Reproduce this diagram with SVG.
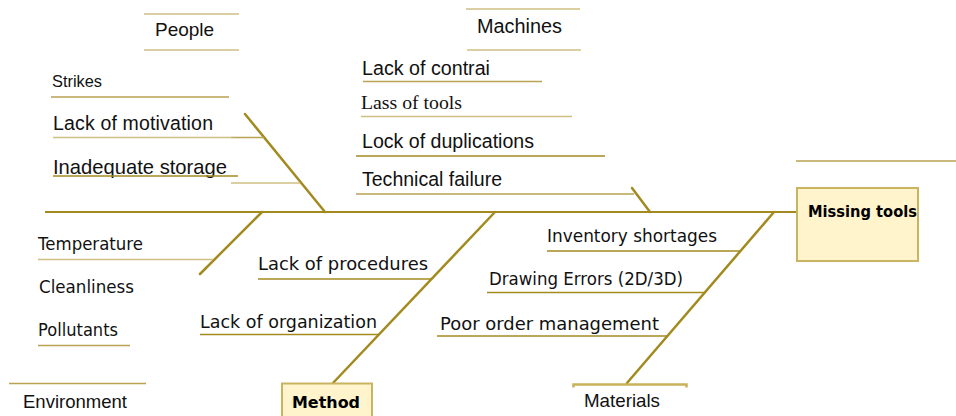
<svg xmlns="http://www.w3.org/2000/svg" width="956" height="416" viewBox="0 0 956 416">
<style>
.sans{font-family:"Liberation Sans",Arial,sans-serif;fill:#111}
.geo{font-family:"DejaVu Sans","Liberation Sans",sans-serif;fill:#111}
.serif{font-family:"Liberation Serif","Times New Roman",serif;fill:#111}
.bold{font-family:"DejaVu Sans","Liberation Sans",sans-serif;font-weight:bold;fill:#000}
.bone{stroke:#A38A1F;stroke-width:2.5;fill:none;stroke-linecap:round}
.spine{stroke:#A38A1F;stroke-width:2.2;fill:none}
.ul-d{stroke:#A38A1F;stroke-width:1.6}
.ul-m{stroke:#B9A250;stroke-width:1.5}
.ul-l{stroke:#CFBF82;stroke-width:1.5}
.box{fill:#FFF4CC;stroke:#C9B462;stroke-width:2}
</style>
<rect width="956" height="416" fill="#fff"/>

<g id="connectors">
<line class="spine" x1="45" y1="212" x2="797" y2="212"/>
<line class="bone" x1="245" y1="114" x2="325" y2="212"/>
<line class="bone" x1="632" y1="188" x2="650" y2="212"/>
<line class="bone" x1="262" y1="212" x2="200" y2="274"/>
<line class="bone" x1="495" y1="212" x2="333" y2="383"/>
<line class="bone" x1="774" y1="212" x2="627" y2="383"/>
<line class="ul-m" x1="231" y1="137.5" x2="264" y2="137.5"/>
<line class="ul-l" x1="231" y1="183" x2="300" y2="183"/>
<line class="ul-m" x1="356" y1="194" x2="634" y2="194"/>
</g>

<g id="effect">
<line class="ul-m" x1="796" y1="161" x2="956" y2="161"/>
<rect class="box" x="797" y="188" width="121" height="73"/>
<text class="bold" x="808" y="217" font-size="15.5" textLength="109" lengthAdjust="spacingAndGlyphs">Missing tools</text>
</g>

<g id="people">
<line class="ul-l" x1="144" y1="14" x2="239" y2="14"/>
<line class="ul-l" x1="144" y1="50" x2="239" y2="50"/>
<text class="sans" x="155" y="36" font-size="19">People</text>
</g>
<g id="strikes">
<text class="sans" x="52" y="87" font-size="16.5" textLength="50" lengthAdjust="spacingAndGlyphs">Strikes</text>
<line class="ul-m" x1="51" y1="97" x2="229" y2="97"/>
</g>
<g id="lack-of-motivation">
<text class="sans" x="53" y="130" font-size="19.5" textLength="160">Lack of motivation</text>
<line class="ul-l" x1="53" y1="137.5" x2="233" y2="137.5"/>
</g>
<g id="inadequate-storage">
<text class="sans" x="53" y="173.5" font-size="19.8" textLength="174" lengthAdjust="spacingAndGlyphs">Inadequate storage</text>
<line class="ul-d" x1="53" y1="176" x2="238" y2="176"/>
</g>

<g id="machines">
<line class="ul-l" x1="466" y1="9" x2="580" y2="9"/>
<line class="ul-l" x1="467" y1="50" x2="581" y2="50"/>
<text class="sans" x="477" y="32.5" font-size="19.5" textLength="85" lengthAdjust="spacingAndGlyphs">Machines</text>
</g>
<g id="lack-of-contrai">
<text class="sans" x="362" y="75" font-size="19.5" textLength="128" lengthAdjust="spacingAndGlyphs">Lack of contrai</text>
<line class="ul-m" x1="363" y1="81.5" x2="542" y2="81.5"/>
</g>
<g id="lass-of-tools">
<text class="serif" x="361" y="109" font-size="19.5" textLength="101" lengthAdjust="spacingAndGlyphs">Lass of tools</text>
<line class="ul-l" x1="361" y1="116.5" x2="572" y2="116.5"/>
</g>
<g id="lock-of-duplications">
<text class="sans" x="362" y="148" font-size="19.5" textLength="172" lengthAdjust="spacingAndGlyphs">Lock of duplications</text>
<line class="ul-d" x1="356" y1="156" x2="605" y2="156"/>
</g>
<g id="technical-failure">
<text class="sans" x="362" y="186" font-size="19.3" textLength="140" lengthAdjust="spacingAndGlyphs">Technical failure</text>
</g>

<g id="environment">
<line class="ul-m" x1="9" y1="383.5" x2="146" y2="383.5"/>
<text class="sans" x="23" y="407.5" font-size="18.5" textLength="104" lengthAdjust="spacingAndGlyphs">Environment</text>
</g>
<g id="temperature">
<text class="geo" x="38" y="250" font-size="17.5" textLength="105" lengthAdjust="spacingAndGlyphs">Temperature</text>
<line class="ul-l" x1="38" y1="259.5" x2="213" y2="259.5"/>
</g>
<g id="cleanliness">
<text class="geo" x="39" y="293" font-size="17.5" textLength="95" lengthAdjust="spacingAndGlyphs">Cleanliness</text>
</g>
<g id="pollutants">
<text class="geo" x="38" y="336" font-size="17.5" textLength="80" lengthAdjust="spacingAndGlyphs">Pollutants</text>
<line class="ul-m" x1="38" y1="345.5" x2="130" y2="345.5"/>
</g>

<g id="method">
<rect class="box" x="282" y="383.5" width="90" height="40"/>
<text class="bold" x="292" y="408" font-size="16.5" textLength="68" lengthAdjust="spacingAndGlyphs">Method</text>
</g>
<g id="lack-of-procedures">
<text class="geo" x="258" y="270" font-size="18" textLength="170" lengthAdjust="spacingAndGlyphs">Lack of procedures</text>
<line class="ul-d" x1="258" y1="279" x2="432" y2="279"/>
</g>
<g id="lack-of-organization">
<text class="geo" x="200" y="328" font-size="17.8" textLength="177" lengthAdjust="spacingAndGlyphs">Lack of organization</text>
<line class="ul-d" x1="200" y1="334.5" x2="379" y2="334.5"/>
</g>

<g id="materials">
<path d="M573.5 387.5 V384.5 H686.5 V387.5" fill="none" stroke="#C9B25A" stroke-width="2.5"/>
<text class="sans" x="584" y="407" font-size="18.5" textLength="76" lengthAdjust="spacingAndGlyphs">Materials</text>
</g>
<g id="inventory-shortages">
<text class="geo" x="547" y="242" font-size="17.8" textLength="170" lengthAdjust="spacingAndGlyphs">Inventory shortages</text>
<line class="ul-d" x1="547" y1="251" x2="741" y2="251"/>
</g>
<g id="drawing-errors">
<text class="geo" x="489" y="285" font-size="17.5" textLength="194" lengthAdjust="spacingAndGlyphs">Drawing Errors (2D/3D)</text>
<line class="ul-d" x1="487" y1="292.5" x2="705" y2="292.5"/>
</g>
<g id="poor-order-management">
<text class="geo" x="440" y="329.5" font-size="17.8" textLength="219" lengthAdjust="spacingAndGlyphs">Poor order management</text>
<line class="ul-d" x1="437" y1="336" x2="668" y2="336"/>
</g>
</svg>
